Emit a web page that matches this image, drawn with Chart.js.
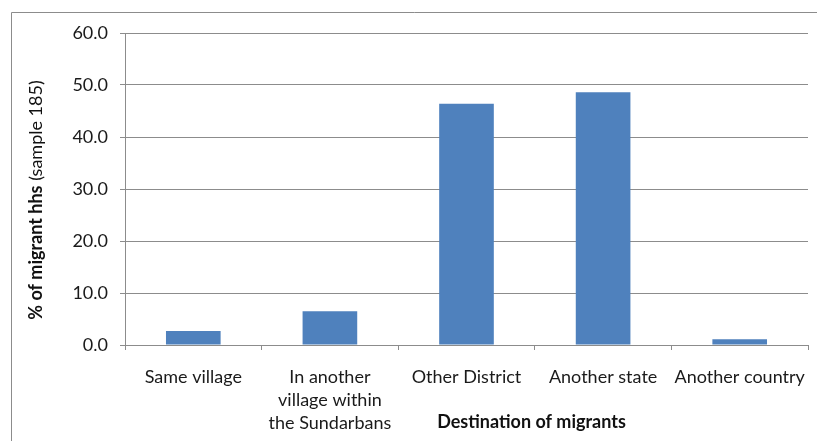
<!DOCTYPE html>
<html>
<head>
<meta charset="utf-8">
<script src="https://cdn.jsdelivr.net/npm/chart.js@4/dist/chart.umd.min.js"></script>
<style>
  html, body { margin: 0; padding: 0; background: #fff; }
  #wrap { width: 817px; height: 441px; position: relative; }
</style>
</head>
<body>
<div id="wrap"><canvas id="c" width="817" height="441"></canvas></div>
<script>
const categories = [
  "Same village",
  ["In another", "village within", "the Sundarbans"],
  "Other District",
  "Another state",
  "Another country"
];
const values = [2.7, 6.5, 46.4, 48.6, 1.1];
const yTicks = [0, 10, 20, 30, 40, 50, 60];
const yTitleBold = "% of migrant hhs";
const yTitleNormal = " (sample 185)";
const xTitle = "Destination of migrants";

const FONT = "Lato, 'Open Sans', sans-serif";

const decor = {
  id: 'decor',
  beforeDraw(chart) {
    const ctx = chart.ctx;
    ctx.save();
    ctx.fillStyle = '#fff';
    ctx.fillRect(0, 0, chart.width, chart.height);
    ctx.strokeStyle = '#8c8c8c';
    ctx.lineWidth = 1;
    ctx.beginPath();
    ctx.moveTo(11.5, chart.height + 5);
    ctx.lineTo(11.5, 12.5);
    ctx.lineTo(chart.width + 5, 12.5);
    ctx.stroke();
    ctx.restore();
  },
  afterDraw(chart) {
    const ctx = chart.ctx;
    const a = chart.chartArea;
    ctx.save();
    ctx.fillStyle = '#111';
    // x title
    ctx.font = "bold 18px " + FONT;
    ctx.textAlign = 'center';
    ctx.textBaseline = 'middle';
    ctx.fillText(xTitle, (a.left + a.right) / 2 + 65, a.bottom + 77);
    // y title (mixed weight)
    const boldFont = "bold 18px " + FONT;
    const normFont = "18px " + FONT;
    ctx.font = boldFont;
    const w1 = ctx.measureText(yTitleBold).width;
    ctx.font = normFont;
    const w2 = ctx.measureText(yTitleNormal).width;
    const total = w1 + w2;
    ctx.translate(36, (a.top + a.bottom) / 2 + 11);
    ctx.rotate(-Math.PI / 2);
    ctx.textAlign = 'left';
    ctx.font = boldFont;
    ctx.fillText(yTitleBold, -total / 2, 0);
    ctx.font = normFont;
    ctx.fillText(yTitleNormal, -total / 2 + w1, 0);
    ctx.restore();
  }
};

new Chart(document.getElementById('c'), {
  type: 'bar',
  data: {
    labels: categories,
    datasets: [{
      data: values,
      backgroundColor: '#4F81BD',
      borderWidth: 0,
      barPercentage: 0.5,
      categoryPercentage: 0.8
    }]
  },
  options: {
    responsive: false,
    animation: false,
    events: [],
    layout: { padding: { left: 0, top: 33, right: 9, bottom: 0 } },
    plugins: { legend: { display: false }, tooltip: { enabled: false } },
    scales: {
      x: {
        afterFit(s) { s.height = 96; s.paddingLeft = 0; s.paddingRight = 0; },
        grid: {
          offset: true,
          drawOnChartArea: false,
          drawTicks: true,
          tickLength: 5,
          color: '#8c8c8c'
        },
        border: { display: true, color: '#8c8c8c' },
        ticks: {
          color: '#1a1a1a',
          font: { family: FONT, size: 18, lineHeight: 1.3 },
          padding: 15,
          maxRotation: 0,
          autoSkip: false
        }
      },
      y: {
        min: 0,
        max: 60,
        afterFit(s) { s.width = 125; s.paddingTop = 0; s.paddingBottom = 0; },
        afterBuildTicks(s) { s.ticks = yTicks.map(v => ({ value: v })); },
        grid: {
          color: '#8c8c8c',
          tickLength: 5,
          drawTicks: true
        },
        border: { display: true, color: '#8c8c8c' },
        ticks: {
          color: '#1a1a1a',
          font: { family: FONT, size: 18 },
          padding: 12,
          callback: v => Number(v).toFixed(1)
        }
      }
    }
  },
  plugins: [decor]
});
</script>
</body>
</html>
